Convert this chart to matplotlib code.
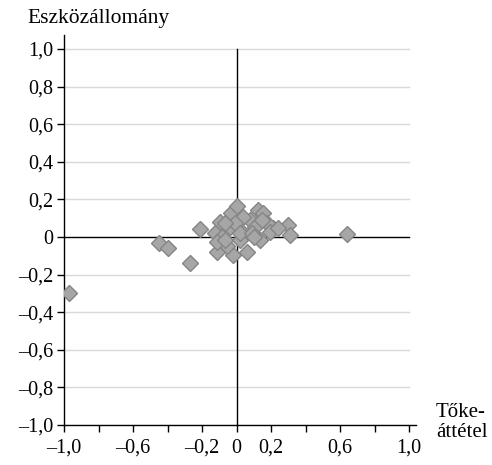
import numpy as np
import matplotlib.pyplot as plt
from matplotlib.ticker import FuncFormatter, FixedLocator

plt.rcParams['font.family'] = ['Liberation Serif', 'DejaVu Serif']

# leverage change vs. asset change, per institution
leverage = [-0.97, -0.45, -0.40, -0.27, -0.21, -0.096, -0.03, 0.0, 0.126, 0.155,
            0.30, 0.31, 0.21, 0.136, 0.06, -0.02, -0.115, -0.057, -0.125, -0.086,
            -0.038, 0.04, 0.078, 0.04, 0.107, 0.175, 0.194, -0.115, -0.067, 0.02,
            -0.009, 0.02, 0.088, -0.067, 0.64, 0.15, 0.24, 0.10]
assets = [-0.30, -0.03, -0.06, -0.137, 0.04, 0.08, 0.126, 0.165, 0.144, 0.126,
          0.064, 0.01, 0.046, -0.016, -0.078, -0.096, -0.078, -0.05, 0.02, 0.0,
          0.055, 0.02, 0.09, 0.108, 0.055, 0.073, 0.028, -0.025, -0.016, -0.016,
          0.073, 0.02, 0.02, 0.073, 0.016, 0.09, 0.05, 0.0]

x_ticks = np.round(np.arange(-1.0, 1.01, 0.2), 1)
x_labeled = [-1.0, -0.6, -0.2, 0.0, 0.2, 0.6, 1.0]
y_ticks = np.round(np.arange(-1.0, 1.01, 0.2), 1)


def hu_num(v):
    if abs(v) < 1e-9:
        return "0"
    s = f"{abs(v):.1f}".replace(".", ",")
    return ("\u2013" if v < 0 else "") + s


fig = plt.figure(figsize=(4.92, 4.65), dpi=100)
ax = fig.add_axes([0.1301, 0.086, 0.7154, 0.8387])

ax.set_xlim(-1.0, 1.04)
ax.set_ylim(-1.0, 1.074)

# horizontal grid and the two zero lines
for y in y_ticks:
    if y != 0:
        ax.plot([-1, 1], [y, y], color="#d9d9d9", lw=1.0, zorder=1)
ax.plot([-1, 1], [0, 0], color="black", lw=1.0, zorder=2)
ax.plot([0, 0], [-1, 1], color="black", lw=1.0, zorder=2)

ax.plot(leverage, assets, linestyle="none", marker="D", markersize=8.6,
        markerfacecolor="#a6a6a6", markeredgecolor="#858585",
        markeredgewidth=1.0, zorder=3)

for s in ["top", "right"]:
    ax.spines[s].set_visible(False)
for s in ["left", "bottom"]:
    ax.spines[s].set_linewidth(1.0)

ax.xaxis.set_major_locator(FixedLocator(x_ticks))
ax.xaxis.set_major_formatter(FuncFormatter(
    lambda v, p: hu_num(v) if any(abs(v - l) < 1e-6 for l in x_labeled) else ""))
ax.yaxis.set_major_locator(FixedLocator(y_ticks))
ax.yaxis.set_major_formatter(FuncFormatter(lambda v, p: hu_num(v)))
ax.tick_params(axis="both", direction="out", length=5, width=1.0,
               labelsize=14.5, colors="black")
ax.tick_params(axis="y", pad=3)
ax.tick_params(axis="x", pad=5)

fig.text(27 / 492, 1 - 23 / 465, "Eszközállomány", fontsize=15.5,
         ha="left", va="baseline")
fig.text(436 / 492, 1 - 437 / 465, "Tőke-\náttétel", fontsize=15,
         ha="left", va="baseline", linespacing=1.05)

fig.savefig("out.png", dpi=100)
